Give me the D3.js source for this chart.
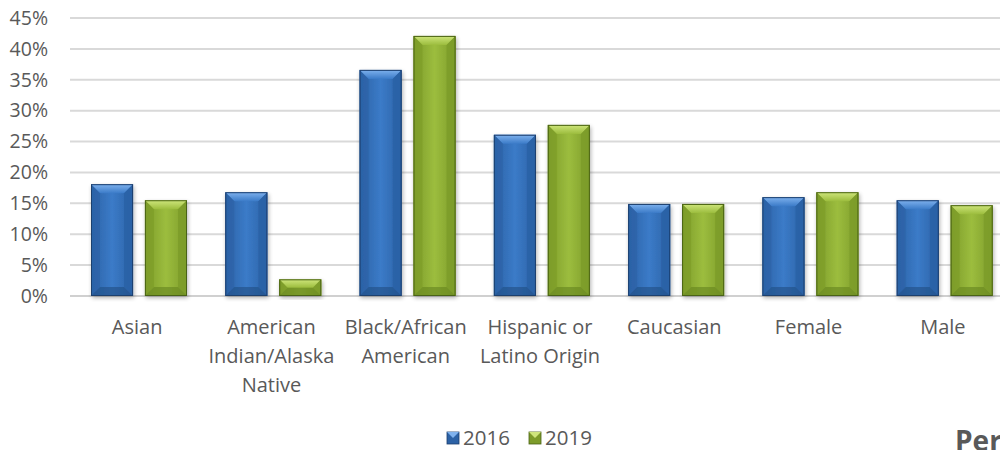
<!DOCTYPE html>
<html><head><meta charset="utf-8">
<script src="https://cdn.jsdelivr.net/npm/d3@7"></script>
<style>body{margin:0;background:#fff}svg{display:block}text{font-family:"Open Sans",Lato,sans-serif;fill:#595959}</style>
</head><body><svg id="c" width="1000" height="450"></svg>
<script>
const categories = [["Asian"],["American","Indian/Alaska","Native"],["Black/African","American"],["Hispanic or","Latino Origin"],["Caucasian"],["Female"],["Male"]];
const series = ["2016","2019"];
const values2016 = [18.1, 16.8, 36.6, 26.1, 14.9, 16.0, 15.5];
const values2019 = [15.5, 2.7, 42.1, 27.7, 14.9, 16.8, 14.7];
const yTicks = [0,5,10,15,20,25,30,35,40,45];

const svg = d3.select("#c");
const mLeft = 70, mRight = 1010, mTop = 18, mBottom = 296;
const x = d3.scaleBand().domain(d3.range(categories.length)).range([mLeft,mRight]).paddingInner(0).paddingOuter(0);
const xs = d3.scaleBand().domain(series).range([21,117]).paddingInner(0.22);
const y = d3.scaleLinear().domain([0,45]).range([mBottom,mTop]);

const pal = {
  "2016": {base:"#3b7bc8", light:"#7fb2ee", side:"#2c62a6", bot:"#24528c", edge:"#1d3f6e"},
  "2019": {base:"#9cbd3e", light:"#cfe67c", side:"#7d9c2a", bot:"#6b8a22", edge:"#4a6314"}
};
const defs = svg.append("defs");
series.forEach(s=>{
  const g = defs.append("linearGradient").attr("id","g"+s).attr("x1","0").attr("x2","1");
  g.append("stop").attr("offset","0").attr("stop-color",pal[s].side);
  g.append("stop").attr("offset","0.5").attr("stop-color",pal[s].base);
  g.append("stop").attr("offset","1").attr("stop-color",pal[s].side);
  const t = defs.append("linearGradient").attr("id","t"+s).attr("x1","0").attr("x2","0").attr("y1","0").attr("y2","1");
  t.append("stop").attr("offset","0").attr("stop-color",pal[s].light);
  t.append("stop").attr("offset","1").attr("stop-color",pal[s].base);
});
const f = defs.append("filter").attr("id","sh").attr("x","-20%").attr("y","-20%").attr("width","140%").attr("height","140%");
f.append("feGaussianBlur").attr("in","SourceAlpha").attr("stdDeviation","2");
f.append("feOffset").attr("dx","1").attr("dy","2").attr("result","b");
const fc = f.append("feComponentTransfer"); fc.append("feFuncA").attr("type","linear").attr("slope","0.3");
const m = f.append("feMerge"); m.append("feMergeNode"); m.append("feMergeNode").attr("in","SourceGraphic");

// gridlines
svg.append("g").selectAll("line").data(yTicks).join("line")
  .attr("x1",mLeft).attr("x2",1000).attr("y1",d=>y(d)).attr("y2",d=>y(d))
  .attr("stroke",d=>d===0?"#d0d0d0":"#d9d9d9").attr("stroke-width",2);

// y tick labels
svg.append("g").selectAll("text").data(yTicks).join("text")
  .attr("x",48).attr("y",d=>y(d)).attr("dy","0.35em").attr("text-anchor","end")
  .attr("font-size",19.5).text(d=>d+"%");

// bars
const data = [];
categories.forEach((c,i)=>{
  data.push({i, s:"2016", v:values2016[i]});
  data.push({i, s:"2019", v:values2019[i]});
});
const bars = svg.append("g").selectAll("g").data(data).join("g").attr("filter","url(#sh)");
bars.each(function(d){
  const g = d3.select(this);
  const x0 = x(d.i)+xs(d.s), w = xs.bandwidth();
  const y0 = y(d.v), y1 = y(0), h = y1-y0;
  const b = Math.min(9, h/2, w/2);
  const p = pal[d.s];
  g.append("rect").attr("x",x0).attr("y",y0).attr("width",w).attr("height",h).attr("fill","url(#g"+d.s+")");
  g.append("path").attr("d",`M${x0},${y0}L${x0+w},${y0}L${x0+w-b},${y0+b}L${x0+b},${y0+b}Z`).attr("fill","url(#t"+d.s+")");
  g.append("path").attr("d",`M${x0},${y0}L${x0+b},${y0+b}L${x0+b},${y1-b}L${x0},${y1}Z`).attr("fill",p.side).attr("opacity",0.7);
  g.append("path").attr("d",`M${x0+w},${y0}L${x0+w-b},${y0+b}L${x0+w-b},${y1-b}L${x0+w},${y1}Z`).attr("fill",p.side).attr("opacity",0.85);
  g.append("path").attr("d",`M${x0},${y1}L${x0+b},${y1-b}L${x0+w-b},${y1-b}L${x0+w},${y1}Z`).attr("fill",p.bot).attr("opacity",0.7);
  g.append("rect").attr("x",x0+0.5).attr("y",y0+0.5).attr("width",w-1).attr("height",h-1).attr("fill","none").attr("stroke",p.edge).attr("stroke-width",1);
});

// category labels
const cl = svg.append("g").selectAll("text").data(categories).join("text")
  .attr("x",(d,i)=>x(i)+x.bandwidth()/2).attr("y",334).attr("text-anchor","middle").attr("font-size",20);
cl.selectAll("tspan").data(d=>d).join("tspan")
  .attr("x",function(){return this.parentNode.getAttribute("x");})
  .attr("dy",(d,j)=>j===0?0:29).text(d=>d);

// legend
const lg = svg.append("g").selectAll("g").data(series).join("g")
  .attr("transform",(d,i)=>`translate(${447+i*82},432)`);
lg.each(function(s){
  const g = d3.select(this), p = pal[s], w=12;
  g.append("rect").attr("width",w).attr("height",w).attr("fill",p.side).attr("stroke",p.edge).attr("stroke-width",0.8);
  g.append("path").attr("d",`M0,0L${w},0L${w/2},${w/2}Z`).attr("fill",p.light);
});
lg.append("text").attr("x",16).attr("y",6).attr("dy","0.35em").attr("font-size",20.5).text(d=>d);

svg.append("text").attr("x",955).attr("y",451).attr("font-size",28).attr("font-weight","bold").text("Per");
</script></body></html>
